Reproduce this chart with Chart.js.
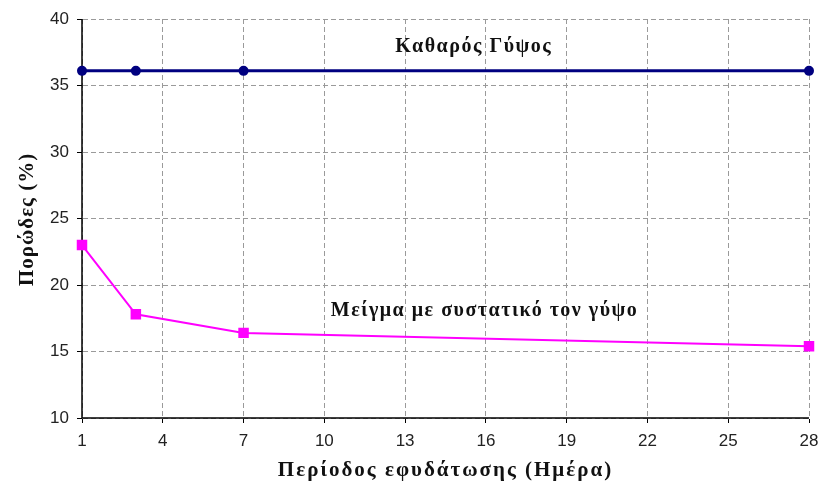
<!DOCTYPE html>
<html>
<head>
<meta charset="utf-8">
<script src="https://cdn.jsdelivr.net/npm/chart.js@4.4.1/dist/chart.umd.min.js"></script>
<style>
  html, body { margin: 0; padding: 0; background: #fff; }
  #wrap { width: 823px; height: 492px; }
</style>
</head>
<body>
<div id="wrap"><canvas id="c" width="823" height="492"></canvas></div>
<script>
// Hydration period (days) and porosity (%)
const days = [1, 3, 7, 28];
const pureGypsum = [36.1, 36.1, 36.1, 36.1];
const gypsumMix = [23.0, 17.8, 16.4, 15.4];

const xTicks = [1, 4, 7, 10, 13, 16, 19, 22, 25, 28];
const yTicks = [10, 15, 20, 25, 30, 35, 40];

const seriesLabels = ['Καθαρός Γύψος', 'Μείγμα με συστατικό τον γύψο'];
const xTitle = 'Περίοδος εφυδάτωσης (Ημέρα)';
const yTitle = 'Πορώδες (%)';

const serif = '"Liberation Serif", "DejaVu Serif", serif';
const sans = '"Liberation Sans", Arial, sans-serif';

// Solid black left and bottom axis lines, drawn under the series
const axisLines = {
  id: 'axisLines',
  beforeDatasetsDraw(chart) {
    const { ctx, chartArea: a } = chart;
    ctx.save();
    ctx.strokeStyle = '#000';
    ctx.lineWidth = 1.5;
    ctx.setLineDash([]);
    ctx.beginPath();
    ctx.moveTo(a.left, a.top);
    ctx.lineTo(a.left, a.bottom);
    ctx.lineTo(a.right, a.bottom);
    ctx.stroke();
    ctx.restore();
  }
};

// Axis titles and the series names written inside the plot
const textLayer = {
  id: 'textLayer',
  afterDatasetsDraw(chart) {
    const { ctx, chartArea: a, scales: { x, y } } = chart;
    ctx.save();
    ctx.fillStyle = '#111';
    ctx.textBaseline = 'middle';
    ctx.textAlign = 'center';

    ctx.font = 'bold 20px ' + serif;
    ctx.letterSpacing = '1.5px';
    ctx.fillText(seriesLabels[0], x.getPixelForValue(15.55), y.getPixelForValue(37.9));
    ctx.fillText(seriesLabels[1], x.getPixelForValue(15.95), y.getPixelForValue(18.05));

    ctx.font = 'bold 21px ' + serif;
    ctx.letterSpacing = '2px';
    ctx.fillText(xTitle, (a.left + a.right) / 2, 471);

    ctx.letterSpacing = '1px';
    ctx.translate(28, (a.top + a.bottom) / 2 + 1);
    ctx.rotate(-Math.PI / 2);
    ctx.fillText(yTitle, 0, 0);
    ctx.restore();
  }
};

const gridOpts = {
  color: '#9a9a9a',
  lineWidth: 1,
  tickColor: '#000',
  tickLength: 5,
  tickWidth: 1
};

new Chart(document.getElementById('c'), {
  type: 'line',
  data: {
    datasets: [
      {
        label: seriesLabels[0],
        data: days.map((d, i) => ({ x: d, y: pureGypsum[i] })),
        borderColor: '#000080',
        backgroundColor: '#000080',
        borderWidth: 3,
        pointStyle: 'circle',
        pointRadius: 3.5,
        pointHoverRadius: 3.5,
        clip: false
      },
      {
        label: seriesLabels[1],
        data: days.map((d, i) => ({ x: d, y: gypsumMix[i] })),
        borderColor: '#ff00ff',
        backgroundColor: '#ff00ff',
        borderWidth: 2,
        pointStyle: 'rect',
        pointRadius: 6,
        pointHoverRadius: 6,
        clip: false
      }
    ]
  },
  options: {
    responsive: false,
    animation: false,
    layout: { padding: { top: 19, right: 14, left: 0, bottom: 0 } },
    plugins: {
      legend: { display: false },
      tooltip: { enabled: false }
    },
    scales: {
      x: {
        type: 'linear',
        min: 1,
        max: 28,
        afterBuildTicks(scale) { scale.ticks = xTicks.map(v => ({ value: v })); },
        afterFit(scale) {
          scale.height = 74;
          scale.paddingLeft = 0;
          scale.paddingRight = 0;
        },
        ticks: {
          color: '#222',
          font: { family: sans, size: 17 },
          padding: 8,
          maxRotation: 0
        },
        grid: gridOpts,
        border: { display: true, color: 'rgba(0,0,0,0)', width: 1, dash: [5, 3] },
        title: { display: false, text: xTitle }
      },
      y: {
        type: 'linear',
        min: 10,
        max: 40,
        afterBuildTicks(scale) { scale.ticks = yTicks.map(v => ({ value: v })); },
        afterFit(scale) {
          scale.width = 82;
          scale.paddingTop = 0;
          scale.paddingBottom = 0;
        },
        ticks: {
          color: '#222',
          font: { family: sans, size: 17 },
          padding: 8
        },
        grid: gridOpts,
        border: { display: true, color: 'rgba(0,0,0,0)', width: 1, dash: [5, 3] },
        title: { display: false, text: yTitle }
      }
    }
  },
  plugins: [axisLines, textLayer]
});
</script>
</body>
</html>
